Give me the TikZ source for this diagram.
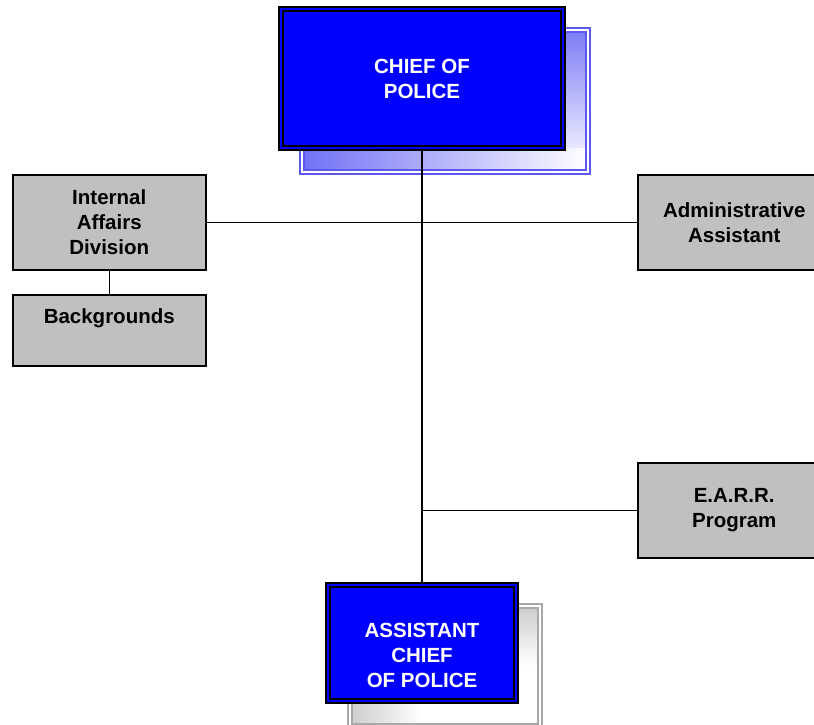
\documentclass[tikz,border=0pt]{standalone}
\usepackage{fontspec}
\setmainfont{Liberation Sans}
\definecolor{chiefblue}{RGB}{0,0,255}
\definecolor{boxgray}{RGB}{192,192,192}
\definecolor{shadeblue}{RGB}{112,112,246}
\definecolor{shadeline}{RGB}{90,90,240}
\definecolor{shadegray}{RGB}{204,204,204}
\definecolor{grayline}{RGB}{168,168,168}
\tikzset{
  unitbox/.style={inner sep=0pt, align=center, anchor=north west,
    font=\fontsize{20.5}{25}\selectfont\bfseries},
  graybox/.style={unitbox, draw=black, line width=1.5pt, fill=boxgray, text=black},
  bluebox/.style={unitbox, draw=black, line width=2pt, fill=chiefblue, text=white},
  innerrule/.style={draw=black, line width=1.5pt},
  shadowrule/.style={line width=1.3pt, double=white, double distance=2.5pt},
  link/.style={draw=black, line width=1.5pt},
}
\begin{document}
\begin{tikzpicture}[x=1pt, y=-1pt]
\useasboundingbox (0,0) rectangle (814,724);

% drop shadow of the chief box: only the right and bottom strips show
\shade[top color=shadeblue!92!white, bottom color=white] (560,30) rectangle (588,172);
\shade[left color=shadeblue, right color=white] (302,148) rectangle (588,172);
\draw[shadowrule, draw=shadeline] (302,30) rectangle (588,172);

% drop shadow of the assistant chief box
\shade[left color=shadegray, right color=white] (350,698) rectangle (422,726);
\shade[top color=shadegray, bottom color=white] (512,606) rectangle (540,665);
\draw[shadowrule, draw=grayline] (350,606) rectangle (540,726);

% boxes
\node[bluebox, minimum width=286pt, minimum height=143pt] (chief) at (278,6)
  {CHIEF OF\\POLICE};
\draw[innerrule] ([shift={(5,5)}]chief.north west) rectangle ([shift={(-5,-5)}]chief.south east);

\node[graybox, minimum width=193pt, minimum height=95pt] (iad) at (12,174)
  {Internal\\Affairs\\Division};
\node[graybox, minimum width=193pt, minimum height=71pt] (bg) at (12,294) {};
\node[unitbox, anchor=north] (bgtext) at ([yshift=-14pt]bg.north) {Backgrounds};
\node[graybox, minimum width=193pt, minimum height=95pt] (admin) at (637,174)
  {Administrative\\Assistant};
\node[graybox, minimum width=193pt, minimum height=95pt] (earr) at (637,462)
  {E.A.R.R.\\Program};

\node[bluebox, minimum width=192pt, minimum height=120pt] (acp) at (325,582) {};
\draw[innerrule] ([shift={(5,5)}]acp.north west) rectangle ([shift={(-5,-5)}]acp.south east);
\node[unitbox, anchor=center, text=white] (acptext) at ([yshift=-12pt]acp.center)
  {ASSISTANT\\CHIEF\\OF POLICE};

% branch point on the main spine for the lower side box
\coordinate (low) at (chief.south |- earr.west);

% connectors
\draw[link] (chief.south) -- (acp.north);
\draw[link] (iad.east) -- (admin.west);
\draw[link] (low) -- (earr.west);
\draw[link] (iad.south) -- (bg.north);
\end{tikzpicture}
\end{document}
